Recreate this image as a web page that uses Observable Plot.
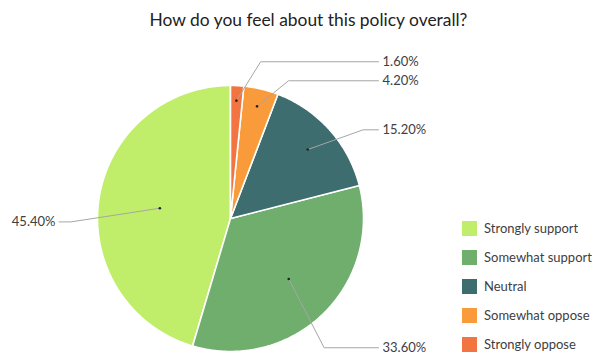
<!DOCTYPE html>
<html><head><meta charset="utf-8">
<script src="https://cdn.jsdelivr.net/npm/d3@7"></script>
<script src="https://cdn.jsdelivr.net/npm/@observablehq/plot@0.6"></script>
<style>
body{margin:0;background:#fff;width:597px;height:354px;overflow:hidden;position:relative;font-family:Lato,"Open Sans",sans-serif;}
#title{position:absolute;left:20px;top:0;width:577px;height:40px;line-height:40px;text-align:center;font-size:17.4px;color:#222;}
#chart{position:absolute;left:0;top:36px;}
#legend{position:absolute;left:462px;top:221px;width:135px;}
#legend .lg-swatches{font-family:Lato,sans-serif;font-size:13px;line-height:15px;color:#404040;margin:0;}
#legend .lg-swatch{padding-bottom:14px;}
#legend .lg-swatch svg{margin-right:7px;}
</style></head><body>
<div id="title">How do you feel about this policy overall?</div>
<div id="chart"></div>
<div id="legend"></div>
<script>
// ---- data ----
const categories = ["Strongly support", "Somewhat support", "Neutral", "Somewhat oppose", "Strongly oppose"];
const shares = [45.4, 33.6, 15.2, 4.2, 1.6];
const valueLabels = ["45.40%", "33.60%", "15.20%", "4.20%", "1.60%"];
const colors = ["#c0ee6a", "#6fae6d", "#3d6d6e", "#f99b3a", "#f27440"];

// ---- layout constants ----
const W = 597, H = 318, CX = 230, CY = 182, R = 133;
const rad = d => d * Math.PI / 180;

// ---- derive slices (clockwise angle from 12 o'clock; series run counter-clockwise) ----
const total = d3.sum(shares);
let cum = 0;
const slices = categories.map((c, i) => {
  const a1 = 360 - cum / total * 360;
  cum += shares[i];
  const a0 = 360 - cum / total * 360;
  return {category: c, a0, a1, share: shares[i] / total, label: valueLabels[i]};
});

const polys = [];
for (const s of slices) {
  polys.push({category: s.category, x: 0, y: 0});
  const n = Math.max(2, Math.ceil((s.a1 - s.a0) / 0.5));
  for (let k = 0; k <= n; k++) {
    const t = s.a0 + (s.a1 - s.a0) * k / n;
    polys.push({category: s.category, x: Math.sin(rad(t)), y: Math.cos(rad(t))});
  }
  polys.push({category: s.category, x: 0, y: 0});
}

// ---- label layout ----
for (const s of slices) {
  s.mid = (s.a0 + s.a1) / 2;
  const f = 0.9 - 0.8 * s.share;
  s.px = f * Math.sin(rad(s.mid));
  s.py = f * Math.cos(rad(s.mid));
  s.side = s.mid < 180 ? "right" : "left";
  // elbow: 1.2R out, rotated slightly downward
  const ea = s.side === "right" ? s.mid + 8 : s.mid - 9.5;
  s.ex = 1.2 * Math.sin(rad(ea));
  s.ly = 1.2 * Math.cos(rad(ea));
}
const gap = 19 / R;
for (const side of ["right", "left"]) {
  const list = slices.filter(s => s.side === side).sort((a, b) => b.ly - a.ly);
  for (let i = 1; i < list.length; i++) {
    if (list[i].ly > list[i - 1].ly - gap) list[i].ly = list[i - 1].ly - gap;
  }
}
const leaders = [];
for (const s of slices) {
  s.lx = s.side === "right" ? 1.143 : -1.316;
  const endX = s.side === "right" ? 1.113 : -1.29;
  leaders.push({id: s.category, x: s.px, y: s.py});
  leaders.push({id: s.category, x: s.ex, y: s.ly});
  leaders.push({id: s.category, x: endX, y: s.ly});
}

const chart = Plot.plot({
  width: W, height: H,
  margin: 0,
  style: {fontFamily: "Lato, sans-serif", background: "white"},
  x: {domain: [-1, 1], range: [CX - R, CX + R], axis: null},
  y: {domain: [-1, 1], range: [CY + R, CY - R], axis: null},
  color: {domain: categories, range: colors},
  marks: [
    Plot.line(polys, {x: "x", y: "y", z: "category", fill: "category", stroke: "white", strokeWidth: 1.6, curve: "linear"}),
    Plot.line(leaders, {x: "x", y: "y", z: "id", stroke: "#a6a6a6", strokeWidth: 1, curve: "linear"}),
    Plot.dot(slices, {x: "px", y: "py", r: 1.3, fill: "#222", stroke: null}),
    Plot.text(slices.filter(s => s.side === "right"), {x: "lx", y: "ly", text: "label", textAnchor: "start", fontSize: 13, fill: "#404040"}),
    Plot.text(slices.filter(s => s.side === "left"), {x: "lx", y: "ly", text: "label", textAnchor: "end", fontSize: 13, fill: "#404040"})
  ]
});
document.getElementById("chart").append(chart);
const legend = chart.legend("color", {legend: "swatches", columns: 1, swatchSize: 15, className: "lg"});
document.getElementById("legend").append(legend);
</script>
</body></html>
